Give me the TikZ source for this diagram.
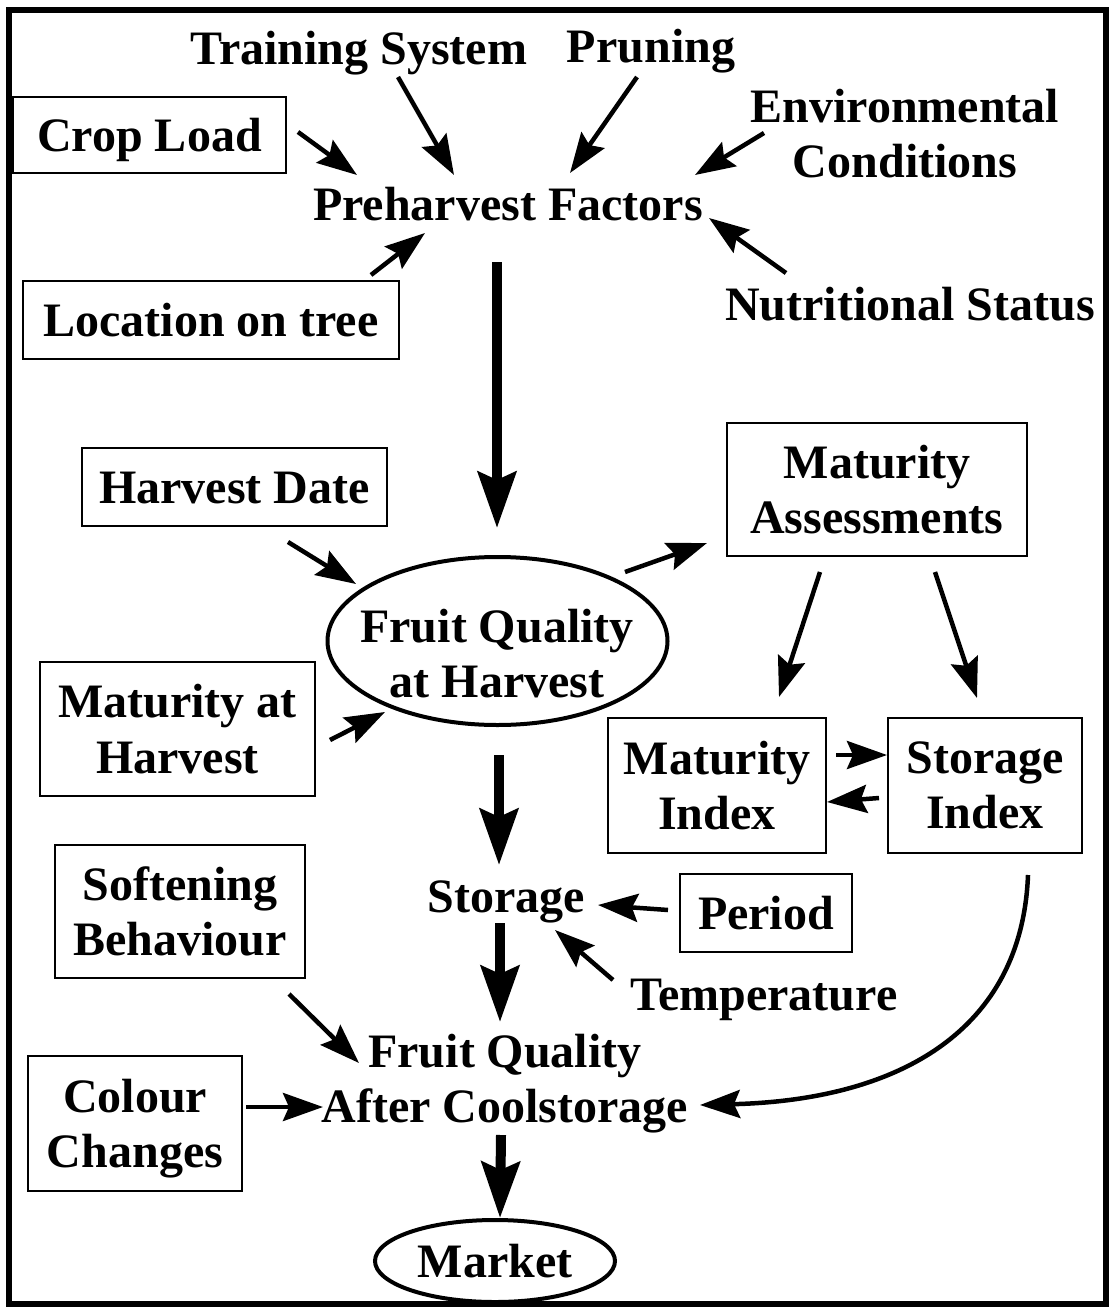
\documentclass[tikz,border=0pt]{standalone}
\usepackage{fontspec}
\setmainfont{Liberation Serif}
\usetikzlibrary{arrows.meta,shapes.geometric}
\begin{document}
\begin{tikzpicture}[x=1pt,y=-1pt,
  every node/.style={font=\fontsize{48}{55.5}\selectfont\bfseries, inner sep=0pt, outer sep=0pt},
  lbl/.style={anchor=base},
  boxa/.style={draw, line width=2.5pt, text height=33pt, text depth=0pt},
  boxb/.style={draw, line width=2.5pt, align=center},
  oval/.style={draw, ellipse, line width=4pt},
  sarr/.style={line width=4.5pt, -{Stealth[length=40pt,width=28pt,inset=6pt]}},
  barr/.style={line width=10pt, -{Stealth[length=56pt,width=38pt,inset=8pt]}}]
\useasboundingbox (0,0) rectangle (1112,1308);
\fill[white] (0,0) rectangle (1112,1308);
\draw[line width=6pt] (9,10.5) rectangle (1106,1304);

% top factors
\node[lbl] (train) at (359,65) {Training System};
\node[lbl] (prun) at (651,63) {Pruning};
\node[boxa, minimum width=273pt, minimum height=76pt] (crop) at (149.5,135) {Crop Load};
\node[align=center] (env) at (905,133.5) {Environmental\\Conditions};
\node[lbl] (pre) at (508,220) {Preharvest Factors};
\node[boxa, minimum width=376pt, minimum height=78pt] (loc) at (211,320) {Location on tree};
\node[lbl] (nut) at (910,320) {Nutritional Status};

% harvest level
\node[boxa, minimum width=305pt, minimum height=78pt] (hd) at (234.5,487) {Harvest Date};
\node[boxb, minimum width=300pt, minimum height=133pt] (ma) at (877,489.5) {Maturity\\Assessments};
\node[oval, minimum width=340pt, minimum height=168pt] (fqh) at (497.5,641) {};
\node[align=center] (fqhtxt) at (497,653.5) {Fruit Quality\\at Harvest};
\node[boxb, minimum width=275pt, minimum height=134pt] (mah) at (177.5,729) {Maturity at\\Harvest};
\node[boxb, minimum width=218pt, minimum height=135pt] (mi) at (717,785.5) {Maturity\\Index};
\node[boxb, minimum width=194pt, minimum height=135pt] (si) at (985,785.5) {Storage\\Index};

% storage level
\node[boxb, minimum width=250pt, minimum height=133pt] (soft) at (180,911.5) {Softening\\Behaviour};
\node[lbl] (stor) at (506.5,912) {Storage};
\node[boxa, minimum width=172pt, minimum height=78pt] (per) at (766,913) {Period};
\node[lbl] (temp) at (764,1010) {Temperature};
\node[align=center] (fqa) at (505,1083.5) {Fruit Quality\\After Coolstorage};
\node[boxb, minimum width=214pt, minimum height=135pt, text depth=0pt] (col) at (135,1123.5) {Colour\\Changes};
\node[oval, minimum width=240pt, minimum height=82pt, text height=33pt, text depth=0pt] (mkt) at (495,1261) {Market};

% connector end points
\coordinate (trainS) at (398,77);   \coordinate (trainE) at (454,175);
\coordinate (prunS) at (637,77);    \coordinate (prunE) at (570,173);
\coordinate (cropS) at (298,132);   \coordinate (cropE) at (357,175);
\coordinate (envS) at (764,133);    \coordinate (envE) at (695,175);
\coordinate (locS) at (371,275);    \coordinate (locE) at (425,233);
\coordinate (nutS) at (786,273);    \coordinate (nutE) at (709,218);
\coordinate (preS) at (497,262);    \coordinate (preE) at (497,528);
\coordinate (hdS) at (288,542);     \coordinate (hdE) at (356,584);
\coordinate (mahS) at (330,740);    \coordinate (mahE) at (385,712);
\coordinate (fqhS) at (625,572);    \coordinate (fqhE) at (707,543);
\coordinate (maS1) at (820,572);    \coordinate (maE1) at (779,697);
\coordinate (maS2) at (935,572);    \coordinate (maE2) at (977,698);
\coordinate (miS) at (836,755);     \coordinate (miE) at (887,755);
\coordinate (siS) at (879,798);     \coordinate (siE) at (827,802);
\coordinate (fqhD) at (499,755);    \coordinate (storT) at (499,865);
\coordinate (perS) at (668,910);    \coordinate (perE) at (598,905);
\coordinate (tempS) at (613,980);   \coordinate (tempE) at (555,930);
\coordinate (storD) at (500,923);   \coordinate (fqaT) at (500,1022);
\coordinate (softS) at (289,994);   \coordinate (softE) at (359,1063);
\coordinate (colS) at (246,1107);   \coordinate (colE) at (323,1107);
\coordinate (siD) at (1028,875);    \coordinate (fqaR) at (700,1105);
\coordinate (fqaD) at (501,1135);   \coordinate (mktT) at (500,1218);

% connectors
\draw[sarr] (trainS) -- (trainE);
\draw[sarr] (prunS) -- (prunE);
\draw[sarr] (cropS) -- (cropE);
\draw[sarr] (envS) -- (envE);
\draw[sarr] (locS) -- (locE);
\draw[sarr] (nutS) -- (nutE);
\draw[barr] (preS) -- (preE);
\draw[sarr] (hdS) -- (hdE);
\draw[sarr] (mahS) -- (mahE);
\draw[sarr] (fqhS) -- (fqhE);
\draw[sarr] (maS1) -- (maE1);
\draw[sarr] (maS2) -- (maE2);
\draw[sarr] (miS) -- (miE);
\draw[sarr] (siS) -- (siE);
\draw[barr] (fqhD) -- (storT);
\draw[sarr] (perS) -- (perE);
\draw[sarr] (tempS) -- (tempE);
\draw[barr] (storD) -- (fqaT);
\draw[sarr] (softS) -- (softE);
\draw[sarr] (colS) -- (colE);
\draw[sarr] (siD) .. controls (1022,1030) and (900,1100) .. (fqaR);
\draw[barr] (fqaD) -- (mktT);
\end{tikzpicture}
\end{document}
